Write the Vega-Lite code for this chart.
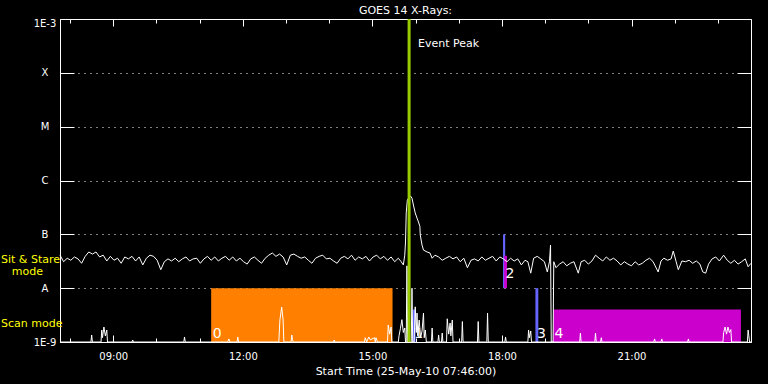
{
"$schema":"https://vega.github.io/schema/vega-lite/v6.json",
"width":691,"height":323,
"autosize":{"type":"none"},
"padding":{"left":60,"top":19,"right":17,"bottom":42},
"background":"#000000",
"config":{"view":{"stroke":"#ffffff","strokeWidth":1}},
"title":{"text":"GOES 14 X-Rays:","anchor":"middle","frame":"group","fontSize":11,"font":"DejaVu Sans","fontWeight":"normal","color":"#ffffff","offset":5,"baseline":"alphabetic","dy":12},
"datasets":{
"ss":[{"t":466,"f":4.1e-8},{"t":471,"f":3.1e-8},{"t":476,"f":3.6e-8},{"t":481,"f":3.3e-8},{"t":486,"f":3.8e-8},{"t":491,"f":3.5e-8},{"t":496,"f":2.9e-8},{"t":501,"f":3.9e-8},{"t":506,"f":4.7e-8},{"t":511,"f":4.3e-8},{"t":516,"f":4.7e-8},{"t":521,"f":3.8e-8},{"t":526,"f":4.1e-8},{"t":531,"f":3.2e-8},{"t":536,"f":3.9e-8},{"t":541,"f":3.3e-8},{"t":546,"f":3.6e-8},{"t":551,"f":2.9e-8},{"t":556,"f":3.8e-8},{"t":561,"f":3.5e-8},{"t":566,"f":3.9e-8},{"t":571,"f":3.2e-8},{"t":576,"f":3.8e-8},{"t":581,"f":2.7e-8},{"t":586,"f":3.6e-8},{"t":591,"f":4.1e-8},{"t":596,"f":3.9e-8},{"t":601,"f":3.3e-8},{"t":606,"f":2.2e-8},{"t":611,"f":3.1e-8},{"t":616,"f":3.5e-8},{"t":621,"f":3.2e-8},{"t":626,"f":3.6e-8},{"t":631,"f":3.1e-8},{"t":636,"f":3.5e-8},{"t":641,"f":3.8e-8},{"t":646,"f":3.2e-8},{"t":651,"f":3.5e-8},{"t":656,"f":3.6e-8},{"t":661,"f":2.9e-8},{"t":666,"f":3.5e-8},{"t":671,"f":3.9e-8},{"t":676,"f":3.3e-8},{"t":681,"f":3.8e-8},{"t":686,"f":3.2e-8},{"t":691,"f":3.6e-8},{"t":696,"f":3.9e-8},{"t":701,"f":3.3e-8},{"t":706,"f":3.8e-8},{"t":711,"f":3.2e-8},{"t":716,"f":3.6e-8},{"t":721,"f":3.1e-8},{"t":726,"f":2.8e-8},{"t":731,"f":3.5e-8},{"t":736,"f":3.8e-8},{"t":741,"f":3.3e-8},{"t":746,"f":2.9e-8},{"t":751,"f":3.6e-8},{"t":756,"f":4.1e-8},{"t":761,"f":4.5e-8},{"t":766,"f":3.9e-8},{"t":771,"f":4.3e-8},{"t":776,"f":3.8e-8},{"t":781,"f":2.7e-8},{"t":786,"f":4.1e-8},{"t":791,"f":4.3e-8},{"t":796,"f":3.9e-8},{"t":801,"f":3.6e-8},{"t":806,"f":3.8e-8},{"t":811,"f":3.3e-8},{"t":816,"f":2.9e-8},{"t":821,"f":3.6e-8},{"t":826,"f":3.9e-8},{"t":831,"f":4.1e-8},{"t":836,"f":3.5e-8},{"t":841,"f":3.6e-8},{"t":846,"f":3.2e-8},{"t":851,"f":2.9e-8},{"t":856,"f":3.6e-8},{"t":861,"f":3.9e-8},{"t":866,"f":3.5e-8},{"t":871,"f":4.1e-8},{"t":876,"f":3.3e-8},{"t":881,"f":3.8e-8},{"t":886,"f":3.5e-8},{"t":891,"f":3.9e-8},{"t":896,"f":3.2e-8},{"t":901,"f":3.8e-8},{"t":906,"f":4.1e-8},{"t":911,"f":3.5e-8},{"t":916,"f":3.9e-8},{"t":921,"f":3.3e-8},{"t":926,"f":3.8e-8},{"t":931,"f":3.1e-8},{"t":936,"f":3.6e-8},{"t":940,"f":3.1e-8},{"t":943,"f":2.7e-8},{"t":945,"f":4.1e-8},{"t":946,"f":7.2e-8},{"t":947,"f":2.5e-7},{"t":948.5,"f":4.3e-7},{"t":951,"f":4.9e-7},{"t":953,"f":5.15e-7},{"t":955,"f":4.7e-7},{"t":957,"f":3.5e-7},{"t":959.5,"f":2.5e-7},{"t":962,"f":2.0e-7},{"t":964,"f":1.7e-7},{"t":966,"f":1.4e-7},{"t":966.5,"f":9.7e-8},{"t":969,"f":6.3e-8},{"t":971,"f":5.1e-8},{"t":976,"f":4.7e-8},{"t":980,"f":4.5e-8},{"t":983,"f":3.6e-8},{"t":987,"f":4.1e-8},{"t":992,"f":3.8e-8},{"t":997,"f":3.3e-8},{"t":1002,"f":3.6e-8},{"t":1007,"f":3.9e-8},{"t":1012,"f":3.5e-8},{"t":1017,"f":3.8e-8},{"t":1022,"f":3.1e-8},{"t":1027,"f":3.6e-8},{"t":1032,"f":2.4e-8},{"t":1037,"f":3.3e-8},{"t":1042,"f":3.5e-8},{"t":1047,"f":3.2e-8},{"t":1052,"f":3.8e-8},{"t":1057,"f":3.3e-8},{"t":1062,"f":3.6e-8},{"t":1067,"f":3.9e-8},{"t":1072,"f":3.2e-8},{"t":1077,"f":3.8e-8},{"t":1082,"f":3.5e-8},{"t":1087,"f":3.1e-8},{"t":1092,"f":3.6e-8},{"t":1097,"f":3.2e-8},{"t":1102,"f":3.5e-8},{"t":1107,"f":2.7e-8},{"t":1112,"f":3.3e-8},{"t":1116,"f":3.1e-8},{"t":1120,"f":1.9e-8},{"t":1124,"f":3.6e-8},{"t":1129,"f":3.9e-8},{"t":1134,"f":3.5e-8},{"t":1139,"f":3.1e-8},{"t":1143,"f":2.0e-8},{"t":1146,"f":3.1e-8},{"t":1147.5,"f":6.3e-8},{"t":1148.5,"f":1e-9},{"t":1151,"f":1e-9},{"t":1152,"f":3.1e-8},{"t":1155,"f":2.4e-8},{"t":1160,"f":2.8e-8},{"t":1165,"f":3.1e-8},{"t":1170,"f":2.6e-8},{"t":1175,"f":2.9e-8},{"t":1180,"f":3.1e-8},{"t":1186,"f":1.9e-8},{"t":1190,"f":3.1e-8},{"t":1195,"f":3.3e-8},{"t":1200,"f":2.8e-8},{"t":1205,"f":3.2e-8},{"t":1210,"f":4.1e-8},{"t":1215,"f":3.6e-8},{"t":1220,"f":3.2e-8},{"t":1225,"f":3.8e-8},{"t":1230,"f":3.3e-8},{"t":1235,"f":3.6e-8},{"t":1240,"f":3.2e-8},{"t":1245,"f":2.7e-8},{"t":1250,"f":3.1e-8},{"t":1255,"f":2.8e-8},{"t":1260,"f":2.6e-8},{"t":1265,"f":3.1e-8},{"t":1270,"f":2.7e-8},{"t":1275,"f":2.9e-8},{"t":1280,"f":3.3e-8},{"t":1285,"f":3.6e-8},{"t":1290,"f":3.1e-8},{"t":1297,"f":2.0e-8},{"t":1301,"f":3.2e-8},{"t":1305,"f":3.6e-8},{"t":1310,"f":3.3e-8},{"t":1315,"f":3.5e-8},{"t":1318,"f":4.9e-8},{"t":1322,"f":3.1e-8},{"t":1325,"f":2.2e-8},{"t":1330,"f":3.2e-8},{"t":1335,"f":3.1e-8},{"t":1340,"f":3.3e-8},{"t":1345,"f":2.9e-8},{"t":1350,"f":3.2e-8},{"t":1355,"f":2.8e-8},{"t":1359,"f":2.0e-8},{"t":1363,"f":1.9e-8},{"t":1367,"f":2.8e-8},{"t":1372,"f":3.5e-8},{"t":1377,"f":3.8e-8},{"t":1382,"f":3.2e-8},{"t":1388,"f":4.1e-8},{"t":1393,"f":3.3e-8},{"t":1398,"f":2.9e-8},{"t":1403,"f":3.3e-8},{"t":1408,"f":2.8e-8},{"t":1413,"f":3.1e-8},{"t":1418,"f":3.5e-8},{"t":1422,"f":2.5e-8},{"t":1426,"f":2.9e-8}],
"scan":[{"t":466,"f":1e-9},{"t":509,"f":1e-9},{"t":510,"f":1.35e-9},{"t":511,"f":1e-9},{"t":523,"f":1e-9},{"t":524,"f":1.67e-9},{"t":525,"f":1.2e-9},{"t":527,"f":1.9e-9},{"t":529,"f":1.3e-9},{"t":531,"f":1.67e-9},{"t":532,"f":1e-9},{"t":566,"f":1e-9},{"t":567,"f":1.09e-9},{"t":568,"f":1e-9},{"t":638,"f":1e-9},{"t":639,"f":1.24e-9},{"t":640,"f":1e-9},{"t":699,"f":1e-9},{"t":700.6,"f":1.14e-9},{"t":702,"f":1e-9},{"t":712,"f":1e-9},{"t":713,"f":1.24e-9},{"t":714,"f":1e-9},{"t":770,"f":1e-9},{"t":771.5,"f":2.56e-9},{"t":774,"f":4.47e-9},{"t":776,"f":2.56e-9},{"t":777,"f":1e-9},{"t":787,"f":1e-9},{"t":788,"f":1.35e-9},{"t":789,"f":1.1e-9},{"t":790,"f":1e-9},{"t":846,"f":1e-9},{"t":847,"f":1.09e-9},{"t":848,"f":1e-9},{"t":889,"f":1e-9},{"t":890,"f":1.2e-9},{"t":892,"f":1e-9},{"t":895,"f":1.24e-9},{"t":897,"f":1.1e-9},{"t":903,"f":1.2e-9},{"t":904,"f":1e-9},{"t":905,"f":1.2e-9},{"t":907,"f":1e-9},{"t":921,"f":1e-9},{"t":922,"f":2.07e-9},{"t":924,"f":1.4e-9},{"t":926,"f":1.9e-9},{"t":927,"f":1e-9},{"t":936,"f":1e-9},{"t":937,"f":1.3e-9},{"t":939,"f":1.8e-9},{"t":941,"f":2.6e-9},{"t":943,"f":1.5e-9},{"t":945,"f":1.82e-9},{"t":946,"f":1e-9},{"t":947,"f":1e-9},{"t":948,"f":2.6e-8},{"t":949,"f":1e-9},{"t":954,"f":1e-9},{"t":955,"f":1e-8},{"t":956,"f":1e-9},{"t":958,"f":1e-9},{"t":959.5,"f":4.5e-9},{"t":961,"f":1.5e-9},{"t":962,"f":3.45e-9},{"t":963,"f":1.3e-9},{"t":965,"f":2.56e-9},{"t":967,"f":1.2e-9},{"t":969,"f":1.6e-9},{"t":971,"f":3.45e-9},{"t":972,"f":1.2e-9},{"t":973.5,"f":1.67e-9},{"t":975,"f":1e-9},{"t":982,"f":1e-9},{"t":983,"f":1.82e-9},{"t":984,"f":1e-9},{"t":991,"f":1e-9},{"t":992,"f":1.35e-9},{"t":993,"f":1e-9},{"t":996,"f":1e-9},{"t":997,"f":1.47e-9},{"t":998,"f":1e-9},{"t":1003,"f":1e-9},{"t":1004,"f":2.7e-9},{"t":1006,"f":1.4e-9},{"t":1008,"f":2.25e-9},{"t":1009,"f":1.3e-9},{"t":1011,"f":2.56e-9},{"t":1012,"f":1e-9},{"t":1024,"f":1e-9},{"t":1025,"f":2.4e-9},{"t":1026,"f":1e-9},{"t":1046,"f":1e-9},{"t":1047,"f":2.4e-9},{"t":1048,"f":1e-9},{"t":1059,"f":1e-9},{"t":1060,"f":3.45e-9},{"t":1061,"f":1e-9},{"t":1084,"f":1e-9},{"t":1085,"f":1.24e-9},{"t":1086,"f":1e-9},{"t":1116,"f":1e-9},{"t":1117,"f":1.67e-9},{"t":1118,"f":1.2e-9},{"t":1120,"f":1.6e-9},{"t":1121,"f":1e-9},{"t":1188,"f":1e-9},{"t":1189,"f":1.47e-9},{"t":1190,"f":1e-9},{"t":1209,"f":1e-9},{"t":1210,"f":1.47e-9},{"t":1211,"f":1e-9},{"t":1217,"f":1e-9},{"t":1218,"f":1.2e-9},{"t":1219,"f":1e-9},{"t":1291,"f":1e-9},{"t":1292,"f":1.14e-9},{"t":1293,"f":1e-9},{"t":1301,"f":1e-9},{"t":1302,"f":1.14e-9},{"t":1303,"f":1e-9},{"t":1338,"f":1e-9},{"t":1339,"f":1.14e-9},{"t":1340,"f":1e-9},{"t":1387,"f":1e-9},{"t":1388,"f":1.5e-9},{"t":1390,"f":1.9e-9},{"t":1392,"f":1.4e-9},{"t":1394,"f":1.9e-9},{"t":1396,"f":1.5e-9},{"t":1398,"f":1.7e-9},{"t":1399,"f":1e-9},{"t":1421,"f":1e-9},{"t":1422,"f":1.67e-9},{"t":1423,"f":1.3e-9},{"t":1424,"f":1e-9},{"t":1426,"f":1e-9}],
"boxes":[{"t0":676,"t1":928,"f0":1e-9,"f1":1e-8,"k":"a"},{"t0":956,"t1":960,"f0":1e-9,"f1":4e-9,"k":"c"},{"t0":1081.5,"t1":1084.5,"f0":1e-8,"f1":1e-7,"k":"c"},{"t0":1083,"t1":1087,"f0":1e-8,"f1":4e-8,"k":"b"},{"t0":1126.5,"t1":1130.5,"f0":1e-9,"f1":1e-8,"k":"c"},{"t0":1151,"t1":1412,"f0":1e-9,"f1":4e-9,"k":"b"}],
"nums":[{"t":676,"f":1.19e-9,"txt":"0"},{"t":956,"f":1.19e-9,"txt":"1"},{"t":1083,"f":1.55e-8,"txt":"2"},{"t":1126.5,"f":1.19e-9,"txt":"3"},{"t":1151,"f":1.19e-9,"txt":"4"}],
"event":[{"t":951,"f":3.02e-4,"txt":"Event Peak"}],
"side":[{"t":384,"f":2.93e-8,"txt":"Sit & Stare"},{"t":399,"f":1.75e-8,"txt":"mode"},{"t":384,"f":1.9e-9,"txt":"Scan mode"}]
},
"layer":[
{"data":{"name":"boxes"},"mark":{"type":"rect"},
 "encoding":{
  "x":{"field":"t0","type":"quantitative","scale":{"domain":[466,1426],"nice":false,"zero":false},
   "axis":{"orient":"bottom","values":[540,720,900,1080,1260],"labelExpr":"(datum.value < 600 ? '0' : '') + round(datum.value/60) + ':00'","domain":false,"tickSize":-7,"tickColor":"#ffffff","labelColor":"#ffffff","labelFont":"DejaVu Sans","labelFontSize":10,"labelPadding":16,"grid":false,"title":"Start Time (25-May-10 07:46:00)","titleColor":"#ffffff","titleFont":"DejaVu Sans","titleFontSize":11,"titleFontWeight":"normal","titlePadding":4}},
  "x2":{"field":"t1"},
  "y":{"field":"f0","type":"quantitative","scale":{"type":"log","domain":[1e-9,1e-3],"nice":false},
   "axis":{"orient":"left","values":[1e-9,1e-8,1e-7,1e-6,1e-5,1e-4,1e-3],"labelExpr":"datum.value > 5e-4 ? '1E-3' : datum.value > 5e-5 ? 'X' : datum.value > 5e-6 ? 'M' : datum.value > 5e-7 ? 'C' : datum.value > 5e-8 ? 'B' : datum.value > 5e-9 ? 'A' : '1E-9'","domain":false,"tickSize":-14,"tickColor":"#ffffff","labelColor":"#ffffff","labelFont":"DejaVu Sans","labelFontSize":10,"labelAlign":"center","labelBaseline":"middle","labelPadding":29.5,"labelOffset":{"condition":{"test":"datum.value > 5e-4","value":4},"value":0},"grid":true,"gridColor":"#ffffff","gridOpacity":1,"gridDash":[1,5],"gridWidth":1,"title":null}},
  "y2":{"field":"f1"},
  "color":{"field":"k","type":"nominal","scale":{"domain":["a","b","c"],"range":["#ff8000","#cc00cc","#6464ff"]},"legend":null}
 }},
{"data":{"name":"ss"},"mark":{"type":"line","color":"#ffffff","strokeWidth":1},
 "encoding":{
  "x":{"field":"t","type":"quantitative","axis":{"orient":"top","values":[480,540,600,660,720,780,840,900,960,1020,1080,1140,1200,1260,1320,1380],"labels":false,"domain":false,"grid":false,"tickSize":-4,"tickColor":"#ffffff","title":null}},
  "y":{"field":"f","type":"quantitative","axis":{"orient":"right","values":[1e-8,1e-7,1e-6,1e-5,1e-4],"labels":false,"domain":false,"grid":false,"tickSize":-14,"tickColor":"#ffffff","title":null}}
 }},
{"data":{"name":"scan"},"mark":{"type":"line","color":"#ffffff","strokeWidth":1},
 "encoding":{
  "x":{"field":"t","type":"quantitative","axis":{"orient":"top","values":[540,720,900,1080,1260],"labels":false,"domain":false,"grid":false,"tickSize":-7,"tickColor":"#ffffff","title":null}},
  "y":{"field":"f","type":"quantitative","axis":null}
 }},
{"data":{"name":"event"},"mark":{"type":"rule","color":"#99cc00","strokeWidth":3},
 "encoding":{
  "x":{"field":"t","type":"quantitative","axis":{"orient":"bottom","values":[480,540,600,660,720,780,840,900,960,1020,1080,1140,1200,1260,1320,1380],"labels":false,"domain":false,"grid":false,"tickSize":-4,"tickColor":"#ffffff","title":null}}
 }},
{"data":{"name":"nums"},"mark":{"type":"text","align":"left","baseline":"alphabetic","dx":1.5,"font":"DejaVu Sans","fontSize":14,"color":"#ffffff"},
 "encoding":{"x":{"field":"t","type":"quantitative","axis":null},"y":{"field":"f","type":"quantitative","axis":null},"text":{"field":"txt"}}},
{"data":{"name":"event"},"mark":{"type":"text","align":"left","baseline":"alphabetic","dx":9,"font":"DejaVu Sans","fontSize":11,"color":"#ffffff"},
 "encoding":{"x":{"field":"t","type":"quantitative","axis":null},"y":{"field":"f","type":"quantitative","axis":null},"text":{"field":"txt"}}},
{"data":{"name":"side"},"mark":{"type":"text","align":"left","baseline":"alphabetic","font":"DejaVu Sans","fontSize":11,"color":"#ffff00"},
 "encoding":{"x":{"field":"t","type":"quantitative","axis":null},"y":{"field":"f","type":"quantitative","axis":null},"text":{"field":"txt"}}}
],
"resolve":{"axis":{"x":"independent","y":"independent"}}
}
